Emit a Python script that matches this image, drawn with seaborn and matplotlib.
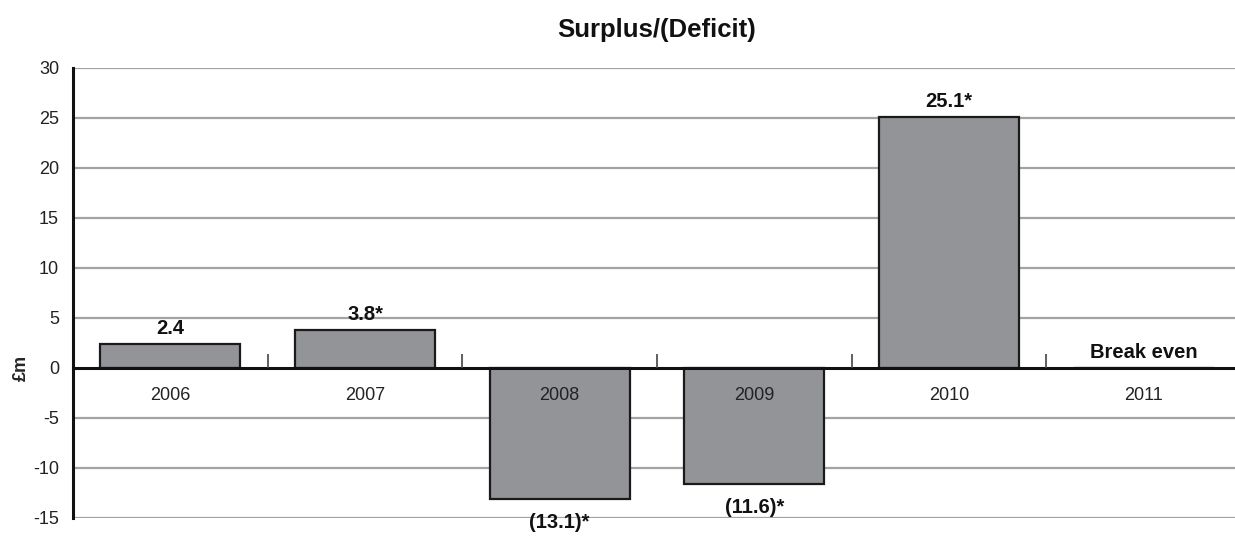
import matplotlib
matplotlib.use("Agg")
import matplotlib.pyplot as plt
import seaborn as sns
import pandas as pd
import numpy as np

YEARS = ["2006", "2007", "2008", "2009", "2010", "2011"]
VALUES = [2.4, 3.8, -13.1, -11.6, 25.1, 0.0]
LABELS = ["2.4", "3.8*", "(13.1)*", "(11.6)*", "25.1*", "Break even"]
Y_TICKS = [-15, -10, -5, 0, 5, 10, 15, 20, 25, 30]

BAR_COLOR = "#939498"
GRID_COLOR = "#a3a3a3"


def main():
    sns.set_theme(style="white")
    plt.rcParams["font.family"] = ["Liberation Sans", "DejaVu Sans"]

    df = pd.DataFrame({"year": YEARS, "value": VALUES})

    fig = plt.figure(figsize=(12.35, 5.38), dpi=100)
    ax = fig.add_axes([73 / 1235, 20 / 538, 1168 / 1235, 450 / 538])

    # gridlines first so the bars sit on top
    for t in Y_TICKS:
        if t != 0:
            ax.axhline(t, color=GRID_COLOR, linewidth=1.6, zorder=0)

    sns.barplot(data=df, x="year", y="value", color=BAR_COLOR, width=0.72,
                edgecolor="#1a1a1a", linewidth=1.6, saturation=1, ax=ax, zorder=2)

    ax.set_xlim(-0.5, len(YEARS) - 0.5)
    ax.set_ylim(-15, 30)
    ax.set_yticks(Y_TICKS)
    ax.set_yticklabels([str(t) for t in Y_TICKS], fontsize=13, color="#222222")
    ax.tick_params(axis="y", length=0, pad=10)

    # category axis runs along the zero line
    for side in ["top", "right"]:
        ax.spines[side].set_visible(False)
    ax.spines["bottom"].set_position(("data", 0))
    ax.spines["bottom"].set_linewidth(2.2)
    ax.spines["bottom"].set_color("#111111")
    ax.spines["bottom"].set_zorder(3)
    ax.spines["left"].set_linewidth(2.2)
    ax.spines["left"].set_color("#111111")

    ax.set_xticks(np.arange(len(YEARS)))
    ax.set_xticklabels(YEARS, fontsize=13, color="#222222")
    ax.set_xticks(np.arange(len(YEARS) - 1) + 0.5, minor=True)
    ax.tick_params(axis="x", which="major", bottom=True, length=0, pad=14)
    ax.tick_params(axis="x", which="minor", bottom=True, direction="in",
                   length=10, width=1.2, color="#444444")
    ax.xaxis.set_zorder(5)

    ax.set_xlabel("")
    ax.set_ylabel("£m", fontsize=13, fontweight="bold")
    ax.yaxis.set_label_coords(-0.037, 0.333)

    # value labels
    for i, (v, txt) in enumerate(zip(VALUES, LABELS)):
        if v >= 0:
            ax.annotate(txt, (i, v), xytext=(0, 4), textcoords="offset points",
                        ha="center", va="bottom", fontsize=14.5, fontweight="bold",
                        color="#111111", annotation_clip=False)
        else:
            ax.annotate(txt, (i, v), xytext=(0, -10), textcoords="offset points",
                        ha="center", va="top", fontsize=14.5, fontweight="bold",
                        color="#111111", annotation_clip=False)

    fig.text(657 / 1235, 1 - 30 / 538, "Surplus/(Deficit)", ha="center",
             va="center", fontsize=18.5, fontweight="bold", color="#111111")

    fig.savefig("out.png", dpi=100)


if __name__ == "__main__":
    main()
